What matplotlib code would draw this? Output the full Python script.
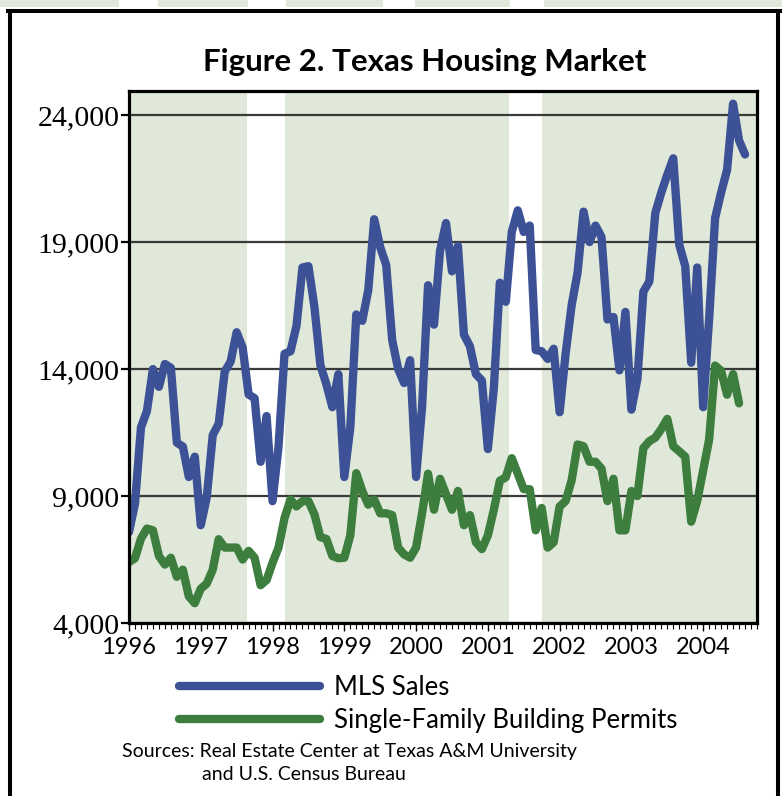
import numpy as np
import matplotlib
matplotlib.use("Agg")
import matplotlib.pyplot as plt
from matplotlib.ticker import MultipleLocator, FuncFormatter
from matplotlib.patches import Rectangle
from matplotlib.lines import Line2D

# ---------------- data (monthly, Jan 1996 onward) ----------------
start_year = 1996
mls_sales = [7580, 8700, 11700, 12350, 14000, 13300, 14200, 14050, 11100, 10950, 9750, 10550,
             7850, 8950, 11400, 11850, 13900, 14300, 15450, 14850, 13000, 12850, 10350, 12150,
             8800, 10950, 14600, 14700, 15700, 18000, 18050, 16450, 14150, 13400, 12500, 13800,
             9750, 11700, 16150, 15900, 17100, 19900, 18800, 18100, 15150, 14000, 13450, 14350,
             9750, 12500, 17300, 15750, 18650, 19750, 17850, 18850, 15350, 14900, 13800, 13550,
             10850, 13250, 17400, 16650, 19400, 20250, 19400, 19650, 14750, 14700, 14400, 14800,
             12300, 14600, 16500, 17800, 20200, 19000, 19650, 19200, 15950, 16050, 13950, 16250,
             12400, 13600, 17050, 17450, 20150, 20950, 21650, 22300, 18900, 18050, 14250, 18000,
             12500, 16000, 19950, 20950, 21850, 24450, 23000, 22450]
sf_permits = [6400, 6550, 7320, 7720, 7650, 6640, 6300, 6570, 5820, 6100, 5050, 4780,
              5350, 5550, 6100, 7300, 6970, 6970, 6970, 6500, 6840, 6570, 5490, 5690,
              6370, 6970, 8130, 8860, 8590, 8800, 8800, 8280, 7380, 7310, 6640, 6550,
              6570, 7450, 9900, 9200, 8660, 8860, 8320, 8320, 8250, 6970, 6700, 6570,
              6970, 8320, 9880, 8460, 9680, 9070, 8460, 9200, 7850, 8250, 7180, 6910,
              7450, 8460, 9600, 9740, 10490, 9880, 9270, 9270, 7650, 8530, 6970, 7180,
              8590, 8800, 9610, 11030, 10960, 10350, 10350, 10080, 8800, 9680, 7650, 7650,
              9200, 9000, 10890, 11160, 11300, 11640, 12040, 10960, 10760, 10550, 7990, 8800,
              10010, 11230, 14140, 13930, 12990, 13800, 12650]
series_labels = ["MLS Sales", "Single-Family Building Permits"]
shaded_periods = [(1996.0, 1997.646), (1998.17, 2001.30), (2001.755, 2004.75)]
year_ticks = list(range(1996, 2005))
value_ticks = [4000, 9000, 14000, 19000, 24000]
title = "Figure 2. Texas Housing Market"
source_lines = ["Sources: Real Estate Center at Texas A&M University",
                "and U.S. Census Bureau"]

# ---------------- style ----------------
sans = "Lato"
serif = "Liberation Serif"

BLUE = "#3d5296"
GREEN = "#3d7d3e"
BAND = "#dfe8d9"

W, H = 782, 796
fig = plt.figure(figsize=(W / 100, H / 100), dpi=100)
fig.patch.set_facecolor("white")

def fx(px):
    return px / W

def fy(py):
    return 1 - py / H

ax_l, ax_r, ax_t, ax_b = 129, 757, 91, 623
ax = fig.add_axes([fx(ax_l), fy(ax_b), (ax_r - ax_l) / W, (ax_b - ax_t) / H])
ax.set_facecolor("white")

x_mls = start_year + np.arange(len(mls_sales)) / 12.0
x_sf = start_year + np.arange(len(sf_permits)) / 12.0

for a, b in shaded_periods:
    ax.axvspan(a, b, color=BAND, lw=0, zorder=0.2)

ax.set_axisbelow(True)
ax.yaxis.grid(True, color="#3a3a3a", lw=1.6)
ax.xaxis.grid(False)

l1, = ax.plot(x_mls, mls_sales, color=BLUE, lw=6.0, solid_capstyle="round",
              solid_joinstyle="round", zorder=3, label=series_labels[0])
l2, = ax.plot(x_sf, sf_permits, color=GREEN, lw=6.0, solid_capstyle="round",
              solid_joinstyle="round", zorder=2.5, label=series_labels[1])

ax.set_xlim(1996.0, 2004.75)
ax.set_ylim(4000, 24950)
ax.set_xticks(year_ticks)
ax.xaxis.set_minor_locator(MultipleLocator(1 / 12))
ax.set_yticks(value_ticks)
ax.yaxis.set_major_formatter(FuncFormatter(lambda v, p: f"{int(v):,}"))

for s in ax.spines.values():
    s.set_linewidth(2.3)
    s.set_color("black")
    s.set_zorder(5)

ax.tick_params(axis="x", which="major", direction="out", length=6, width=1.0,
               pad=4, labelsize=17, colors="black")
ax.tick_params(axis="x", which="minor", direction="out", length=4.5, width=0.8)
ax.tick_params(axis="y", which="major", direction="out", length=6, width=1.6,
               pad=1, labelsize=21.5)
for lab in ax.get_xticklabels():
    lab.set_fontfamily(sans)
for lab in ax.get_yticklabels():
    lab.set_fontfamily(serif)

fig.text(fx(425), fy(62), title, ha="center", va="center", fontsize=22.5,
         fontweight="bold", family=sans)

leg = fig.legend(handles=[l1, l2], labels=series_labels, loc="upper left",
                 bbox_to_anchor=(fx(166), fy(662)), frameon=False, borderpad=0,
                 handlelength=5.5, handletextpad=0.55, labelspacing=0.3,
                 prop={"family": sans, "size": 18.5})

fig.text(fx(122), fy(752), source_lines[0], ha="left", va="center",
         fontsize=14, family=sans)
fig.text(fx(202), fy(775), source_lines[1], ha="left", va="center",
         fontsize=14, family=sans)

# outer frame
frame_lw = 2.9
fig.add_artist(Line2D([fx(10), fx(10)], [fy(10.5), fy(800)], color="black", lw=frame_lw,
                      transform=fig.transFigure))
fig.add_artist(Line2D([fx(778), fx(778)], [fy(10.5), fy(800)], color="black", lw=frame_lw,
                      transform=fig.transFigure))
fig.add_artist(Line2D([fx(8), fx(780)], [fy(10.5), fy(10.5)], color="black", lw=frame_lw,
                      transform=fig.transFigure, solid_capstyle="projecting"))

# page stripes above frame
for a, b in [(0, 119), (158, 248), (286, 383), (415, 510), (544, 782)]:
    fig.add_artist(Rectangle((fx(a), fy(7)), (b - a) / W, 7 / H, color=BAND, lw=0,
                             transform=fig.transFigure))

fig.savefig("out.png", dpi=100)
